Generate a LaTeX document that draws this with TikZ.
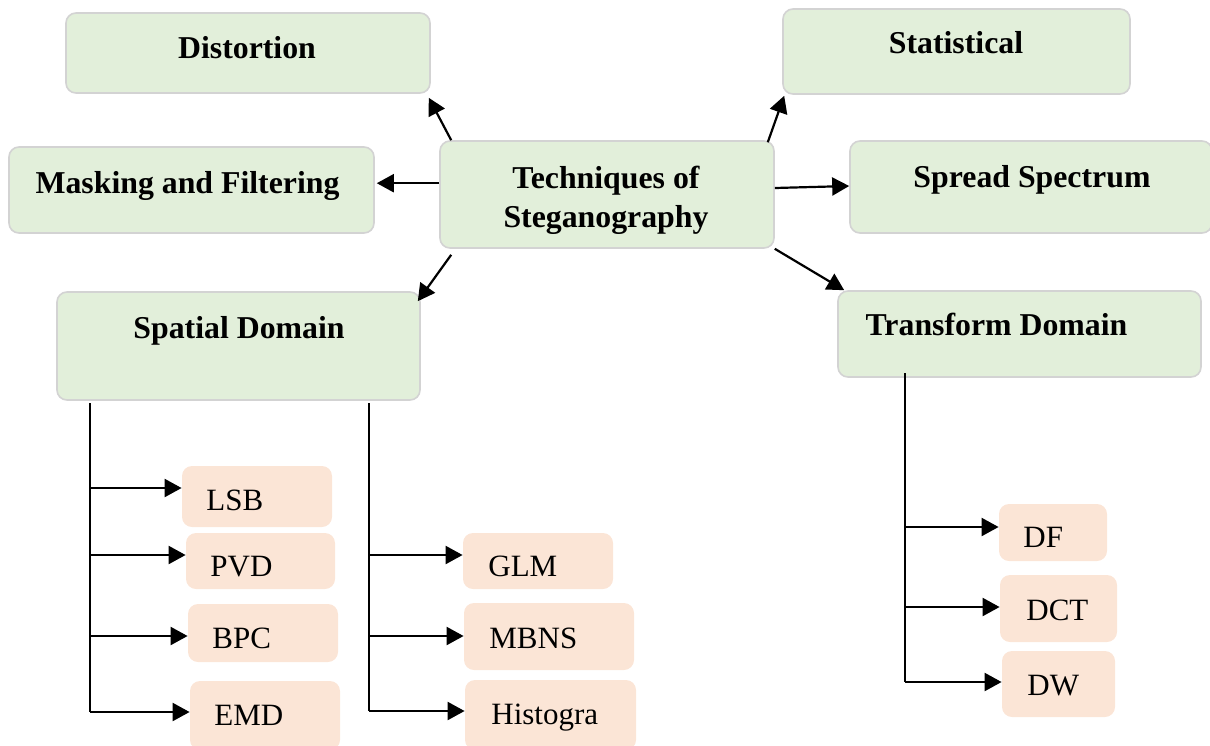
\documentclass[tikz,border=0pt]{standalone}
\usepackage{fontspec}
\setmainfont{Liberation Serif}
\usetikzlibrary{arrows.meta,calc}
\definecolor{greenfill}{HTML}{E2EFDA}
\definecolor{greenline}{HTML}{D3D3D3}
\definecolor{peachfill}{HTML}{FBE5D6}
\tikzset{
  gbox/.style={draw=greenline, fill=greenfill, line width=0.8pt, rounded corners=5pt, inner sep=0pt},
  pbox/.style={fill=peachfill, rounded corners=5pt, inner sep=0pt},
  btxt/.style={font=\fontsize{15.9pt}{19pt}\selectfont\bfseries, inner sep=0pt, anchor=base},
  rtxt/.style={font=\fontsize{15.5pt}{19pt}\selectfont, inner sep=0pt, anchor=base west},
  arr/.style={line width=1.1pt, -{Triangle[length=8.5pt,width=9pt]}},
  trunk/.style={line width=1.1pt},
}
\begin{document}
\begin{tikzpicture}[x=0.5pt,y=-0.5pt]
\useasboundingbox (0,0) rectangle (1210,745);

% main category boxes
\node[gbox, minimum width=182pt, minimum height=40pt] (dist) at (248,53) {};
\node[gbox, minimum width=173.5pt, minimum height=42.5pt] (stat) at (956.5,51.5) {};
\node[gbox, minimum width=182.5pt, minimum height=43pt] (mask) at (191.5,190) {};
\node[gbox, minimum width=167pt, minimum height=53.5pt] (tech) at (607,194.5) {};
\node[gbox, minimum width=181pt, minimum height=46pt] (spread) at (1031,187) {};
\node[gbox, minimum width=181.5pt, minimum height=54pt] (spat) at (238.5,346) {};
\node[gbox, minimum width=181.5pt, minimum height=43pt] (trans) at (1019.5,334) {};

\node[btxt] (dist-t) at (247,58) {Distortion};
\node[btxt] (stat-t) at (956,53) {Statistical};
\node[btxt] (mask-t) at (187.5,193) {Masking and Filtering};
\node[btxt] (tech-t1) at (606,188) {Techniques of};
\node[btxt] (tech-t2) at (606,227) {Steganography};
\node[btxt] (spread-t) at (1032,187) {Spread Spectrum};
\node[btxt] (spat-t) at (239,338) {Spatial Domain};
\node[btxt] (trans-t) at (996.5,335) {Transform Domain};

% method boxes
\node[pbox, minimum width=75pt, minimum height=30.5pt] (lsb) at (257,496.5) {};
\node[pbox, minimum width=74.5pt, minimum height=28pt] (pvd) at (260.5,561) {};
\node[pbox, minimum width=75pt, minimum height=29pt] (bpc) at (263,633) {};
\node[pbox, minimum width=75pt, minimum height=34.5pt] (emd) at (265,715.5) {};
\node[pbox, minimum width=75pt, minimum height=28pt] (glm) at (538,561) {};
\node[pbox, minimum width=85pt, minimum height=33.5pt] (mbns) at (549,636.5) {};
\node[pbox, minimum width=85.5pt, minimum height=35pt] (hist) at (550.5,715) {};
\node[pbox, minimum width=54pt, minimum height=28.5pt] (df) at (1053,532.5) {};
\node[pbox, minimum width=58.5pt, minimum height=33.5pt] (dct) at (1058.5,608.5) {};
\node[pbox, minimum width=56.5pt, minimum height=33pt] (dw) at (1058.5,684) {};

\node[rtxt] (lsb-t) at (206,510) {LSB};
\node[rtxt] (pvd-t) at (210,576) {PVD};
\node[rtxt] (bpc-t) at (212,648) {BPC};
\node[rtxt] (emd-t) at (214,725) {EMD};
\node[rtxt] (glm-t) at (488,576) {GLM};
\node[rtxt] (mbns-t) at (489,648) {MBNS};
\node[rtxt] (hist-t) at (491,724) {Histogra};
\node[rtxt] (df-t) at (1023,547) {DF};
\node[rtxt] (dct-t) at (1026,620) {DCT};
\node[rtxt] (dw-t) at (1027,695) {DW};

% arrows out of the central box
\draw[arr] ($(tech.north west)+(12,0)$) -- ($(dist.south east)+(-2,4)$);
\draw[arr] ($(tech.north east)+(-7,2)$) -- ($(stat.south west)+(2,1)$);
\draw[arr] ($(tech.north west)+(0,43)$) -- ($(mask.north east)+(2,37)$);
\draw[arr] ($(tech.east)+(0,-6.5)$) -- ($(spread.west)+(0,-1)$);
\draw[arr] ($(tech.south west)+(12,6)$) -- ($(spat.north east)+(-3,10)$);
\draw[arr] (tech.south east) -- ($(trans.north west)+(7,0)$);

% spatial domain, left branch
\coordinate (sa0) at (90,403);
\coordinate (sa1) at (90,488);
\coordinate (sa2) at (90,555);
\coordinate (sa3) at (90,636);
\coordinate (sa4) at (90,712);
\draw[trunk] (sa0) -- (sa4);
\draw[arr] (sa1) -- (sa1 -| lsb.west);
\draw[arr] (sa2) -- (sa2 -| pvd.west);
\draw[arr] (sa3) -- (sa3 -| bpc.west);
\draw[arr] (sa4) -- (sa4 -| emd.west);

% spatial domain, right branch
\coordinate (sb0) at (369,403);
\coordinate (sb1) at (369,555);
\coordinate (sb2) at (369,636);
\coordinate (sb3) at (369,711);
\draw[trunk] (sb0) -- (sb3);
\draw[arr] (sb1) -- (sb1 -| glm.west);
\draw[arr] (sb2) -- (sb2 -| mbns.west);
\draw[arr] (sb3) -- (sb3 -| hist.west);

% transform domain branch
\coordinate (tr0) at (905,373);
\coordinate (tr1) at (905,527);
\coordinate (tr2) at (905,607);
\coordinate (tr3) at (905,682);
\draw[trunk] (tr0) -- (tr3);
\draw[arr] (tr1) -- (tr1 -| df.west);
\draw[arr] (tr2) -- (tr2 -| dct.west);
\draw[arr] (tr3) -- (tr3 -| dw.west);
\end{tikzpicture}
\end{document}
